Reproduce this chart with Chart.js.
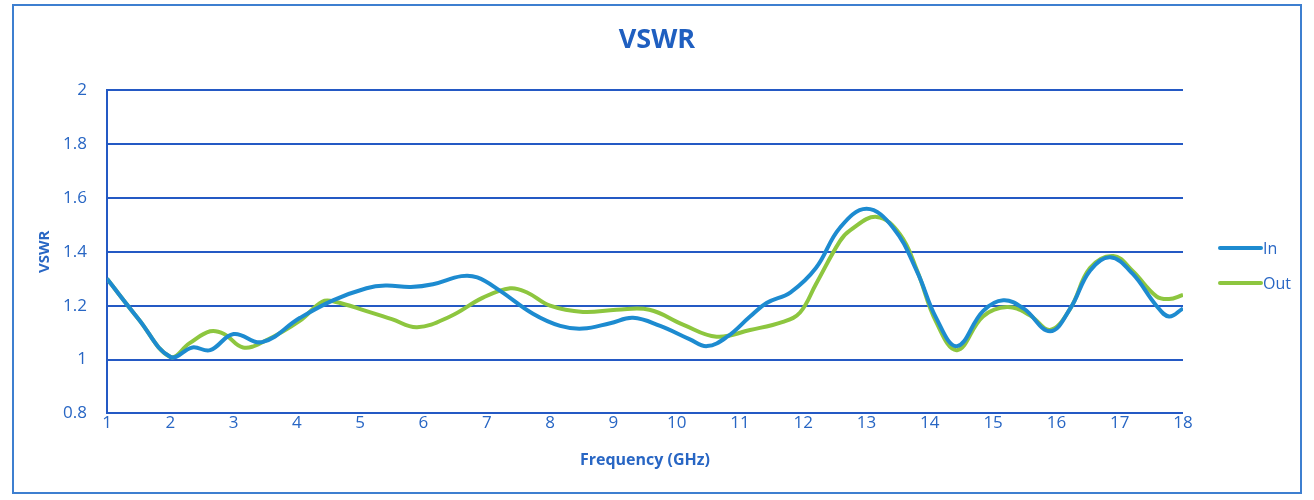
<!DOCTYPE html>
<html>
<head>
<meta charset="utf-8">
<script src="https://cdn.jsdelivr.net/npm/chart.js@4.4.1/dist/chart.umd.min.js"></script>
<style>
  html, body { margin: 0; padding: 0; background: #ffffff; }
  #wrap { position: relative; width: 1314px; height: 500px; }
  #frame {
    position: absolute; left: 12px; top: 4px; width: 1286px; height: 486px;
    border: 2px solid #3d7fd0; pointer-events: none;
  }
</style>
</head>
<body>
<div id="wrap">
  <canvas id="vswr-chart" width="1314" height="500"></canvas>
  <div id="frame"></div>
</div>
<script>
// Frequency (GHz) / VSWR
const inFreq = [1, 1.5, 2, 2.35, 2.63, 3.0, 3.45, 4.05, 4.57, 5.1, 5.4, 5.8, 6.15, 6.6, 6.85, 7.2, 7.73, 8.16, 8.52, 8.95, 9.31, 9.74, 10.21, 10.48, 10.8, 11.16, 11.42, 11.8, 12.2, 12.58, 13.0, 13.42, 13.8, 14.1, 14.43, 14.84, 15.16, 15.48, 15.9, 16.22, 16.53, 16.85, 17.2, 17.58, 17.78, 18];
const inVswr = [1.30, 1.15, 1.01, 1.045, 1.035, 1.095, 1.065, 1.155, 1.22, 1.265, 1.275, 1.27, 1.28, 1.31, 1.305, 1.257, 1.17, 1.125, 1.115, 1.135, 1.155, 1.125, 1.075, 1.05, 1.085, 1.16, 1.21, 1.25, 1.34, 1.49, 1.56, 1.49, 1.326, 1.155, 1.05, 1.18, 1.22, 1.19, 1.105, 1.19, 1.33, 1.38, 1.32, 1.2, 1.16, 1.19];

const outFreq = [1, 1.5, 2, 2.3, 2.63, 2.85, 3.15, 3.5, 4.05, 4.4, 4.6, 5.1, 5.5, 5.9, 6.42, 6.94, 7.37, 7.63, 8.0, 8.52, 9.05, 9.57, 10.1, 10.63, 11.16, 11.68, 11.95, 12.2, 12.58, 12.74, 13.16, 13.53, 13.8, 14.1, 14.43, 14.84, 15.22, 15.58, 15.9, 16.22, 16.53, 16.9, 17.2, 17.58, 17.78, 18];
const outVswr = [1.30, 1.15, 1.01, 1.06, 1.105, 1.095, 1.045, 1.07, 1.145, 1.215, 1.215, 1.18, 1.15, 1.12, 1.16, 1.23, 1.265, 1.25, 1.2, 1.177, 1.185, 1.185, 1.13, 1.085, 1.11, 1.14, 1.175, 1.28, 1.44, 1.48, 1.53, 1.465, 1.33, 1.14, 1.035, 1.16, 1.195, 1.165, 1.11, 1.19, 1.34, 1.385, 1.33, 1.235, 1.225, 1.24];

const seriesNames = ['In', 'Out'];
const seriesColors = ['#1d8bd0', '#8dc63f'];

const textBlue = '#2866c4';
const gridBlue = '#2459c4';
const fontFamily = "'Open Sans', 'Liberation Sans', sans-serif";

const toPoints = (xs, ys) => xs.map((x, i) => ({ x: x, y: ys[i] }));

// Legend drawn on the right, the way the original sits next to the plot
const sideLegend = {
  id: 'sideLegend',
  afterDraw(chart) {
    const c = chart.ctx;
    const left = chart.chartArea.right + 37;
    const top = 248;
    c.save();
    c.font = `16px ${fontFamily}`;
    c.textBaseline = 'middle';
    chart.data.datasets.forEach((ds, i) => {
      const y = top + i * 35;
      c.strokeStyle = ds.borderColor;
      c.lineWidth = 4;
      c.lineCap = 'round';
      c.beginPath();
      c.moveTo(left, y);
      c.lineTo(left + 41, y);
      c.stroke();
      c.fillStyle = textBlue;
      c.fillText(ds.label, left + 43, y + 1);
    });
    c.restore();
  }
};

const ctx = document.getElementById('vswr-chart').getContext('2d');

new Chart(ctx, {
  type: 'line',
  data: {
    datasets: [
      {
        label: seriesNames[0],
        data: toPoints(inFreq, inVswr),
        borderColor: seriesColors[0],
        backgroundColor: seriesColors[0],
        borderWidth: 4,
        pointRadius: 0,
        tension: 0.4
      },
      {
        label: seriesNames[1],
        data: toPoints(outFreq, outVswr),
        borderColor: seriesColors[1],
        backgroundColor: seriesColors[1],
        borderWidth: 4,
        pointRadius: 0,
        tension: 0.4
      }
    ]
  },
  options: {
    responsive: false,
    animation: false,
    layout: {
      padding: { left: 36, right: 36, top: 0, bottom: 30 }
    },
    scales: {
      x: {
        type: 'linear',
        min: 1,
        max: 18,
        ticks: {
          stepSize: 1,
          color: textBlue,
          font: { family: fontFamily, size: 17 },
          padding: 0
        },
        grid: { display: false, drawTicks: false },
        border: { display: false },
        title: {
          display: true,
          text: 'Frequency (GHz)',
          color: textBlue,
          font: { family: fontFamily, size: 16, weight: 'bold' },
          padding: { top: 17, bottom: 0 }
        }
      },
      y: {
        min: 0.8,
        max: 2,
        afterFit: (scale) => { scale.width = 71; },
        ticks: {
          stepSize: 0.2,
          color: textBlue,
          font: { family: fontFamily, size: 17 },
          padding: 20,
          callback: (v) => Math.round(v * 10) / 10
        },
        grid: { color: gridBlue, lineWidth: 2, drawTicks: false },
        border: { display: true, color: gridBlue, width: 2 },
        title: {
          display: true,
          text: 'VSWR',
          color: textBlue,
          font: { family: fontFamily, size: 15, weight: 'bold' },
          padding: { top: 0, bottom: 5 }
        }
      },
      // empty right-hand axis: leaves room for the legend, keeps the title centred
      legendSpace: {
        position: 'right',
        min: 0.8,
        max: 2,
        afterFit: (scale) => { scale.width = 95; },
        ticks: { display: false },
        grid: { display: false },
        border: { display: false }
      }
    },
    plugins: {
      title: {
        display: true,
        text: 'VSWR',
        color: '#1f5fc0',
        font: { family: fontFamily, size: 27, weight: 'bold' },
        padding: { top: 24, bottom: 34 }
      },
      legend: { display: false },
      tooltip: { enabled: false }
    }
  },
  plugins: [sideLegend]
});
</script>
</body>
</html>
